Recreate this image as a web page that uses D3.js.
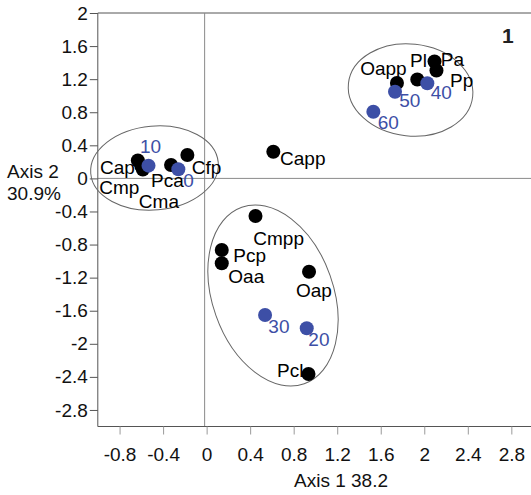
<!DOCTYPE html>
<html>
<head>
<meta charset="utf-8">
<script src="https://cdn.jsdelivr.net/npm/d3@7"></script>
<style>
  html, body { margin: 0; padding: 0; background: #fff; }
  svg { display: block; }
  text { font-family: "Liberation Sans", Arial, sans-serif; }
</style>
</head>
<body>
<svg id="chart" width="531" height="495"></svg>
<script>
// Ordination scores (Axis 1, Axis 2) for the sampled groups
const groupNames = ["Cap", "Cmp", "Cma", "Pca", "Cfp", "Capp", "Cmpp", "Pcp", "Oaa", "Oap", "Pcl", "Oapp", "Pl", "Pa", "Pp"];
const groupAxis1 = [-0.632, -0.600, -0.586, -0.327, -0.177, 0.613, 0.449, 0.139, 0.139, 0.941, 0.936, 1.749, 1.936, 2.094, 2.112];
const groupAxis2 = [0.216, 0.150, 0.107, 0.162, 0.283, 0.323, -0.455, -0.866, -1.026, -1.128, -2.365, 1.153, 1.196, 1.413, 1.305];

// Sampling depths projected onto the same axes
const depthNames = ["10", "0", "30", "20", "50", "40", "60"];
const depthAxis1 = [-0.534, -0.260, 0.537, 0.920, 1.731, 2.028, 1.532];
const depthAxis2 = [0.154, 0.110, -1.652, -1.812, 1.048, 1.150, 0.806];

// Grouping ellipses: centre and semi-axes in axis units, tilt in degrees
const ellipseCx = [-0.479, 0.610, 1.874];
const ellipseCy = [0.126, -1.416, 1.069];
const ellipseRx = [0.588, 0.556, 0.574];
const ellipseRy = [0.508, 1.132, 0.556];
const ellipseTilt = [-5, -19.5, 6];

// Tick labels
const xTicks = [-0.8, -0.4, 0, 0.4, 0.8, 1.2, 1.6, 2, 2.4, 2.8];
const yTicks = [2, 1.6, 1.2, 0.8, 0.4, 0, -0.4, -0.8, -1.2, -1.6, -2, -2.4, -2.8];

// Label placement relative to each marker (pixels) and anchor
const groupLabelLayout = {
  Cap:  { dx: -3,  dy: 13.8, anchor: "end" },
  Cmp:  { dx: -2,  dy: 27.8, anchor: "end" },
  Cma:  { dx: -4,  dy: 38,   anchor: "start" },
  Pca:  { dx: -20, dy: 21.7, anchor: "start" },
  Cfp:  { dx: 4.4, dy: 19,   anchor: "start" },
  Capp: { dx: 6.7, dy: 13.3, anchor: "start" },
  Cmpp: { dx: -2.2, dy: 29,  anchor: "start" },
  Pcp:  { dx: 11.6, dy: 11.7, anchor: "start" },
  Oaa:  { dx: 6.6, dy: 20,   anchor: "start" },
  Oap:  { dx: -13, dy: 25,   anchor: "start" },
  Pcl:  { dx: -5,  dy: 2.7,  anchor: "end" },
  Oapp: { dx: 9.7, dy: -8,   anchor: "end" },
  Pl:   { dx: -7.3, dy: -12.8, anchor: "start" },
  Pa:   { dx: 6.2, dy: 4.5,  anchor: "start" },
  Pp:   { dx: 13.5, dy: 16.2, anchor: "start" }
};
const depthLabelLayout = {
  "10": { dx: -8.5, dy: -13 },
  "0":  { dx: 5,   dy: 17.4 },
  "30": { dx: 3.3, dy: 17.7 },
  "20": { dx: 1.6, dy: 17.7 },
  "50": { dx: 4.3, dy: 15 },
  "40": { dx: 3.4, dy: 16 },
  "60": { dx: 4.4, dy: 17.6 }
};

const blue = "#3d4fa6";
const fontSize = 19;

const svg = d3.select("#chart");

const x = d3.scaleLinear().domain([-1, 3]).range([97.8, 533.1]);
const y = d3.scaleLinear().domain([-3, 2]).range([426.5, 13]);

// Plot frame
const [x0, x1] = x.range();
const [yb, yt] = y.range();
svg.append("line").attr("x1", x0).attr("x2", x1).attr("y1", yt).attr("y2", yt)
  .attr("stroke", "#555").attr("stroke-width", 1);

// Zero reference lines
svg.append("line").attr("x1", x(0) - 2).attr("x2", x(0) - 2).attr("y1", yt).attr("y2", yb)
  .attr("stroke", "#8a8a8a").attr("stroke-width", 1);
svg.append("line").attr("x1", x0).attr("x2", x1).attr("y1", y(0)).attr("y2", y(0))
  .attr("stroke", "#8a8a8a").attr("stroke-width", 1);

// Y axis
const yAxis = d3.axisLeft(y).tickValues(yTicks).tickSize(8).tickPadding(2)
  .tickFormat(d => String(+d.toFixed(1)));
const gy = svg.append("g").attr("transform", `translate(${x0},0)`).call(yAxis);
gy.select(".domain").attr("stroke", "#555").attr("d", `M0,${yt}V${yb}`);
gy.selectAll(".tick line").attr("stroke", "#555");
gy.selectAll(".tick text").attr("font-size", fontSize).attr("fill", "#111")
  .attr("font-family", "Liberation Sans, Arial, sans-serif");

// X axis
const xAxis = d3.axisBottom(x).tickValues(xTicks).tickSize(8).tickPadding(13)
  .tickFormat(d => String(+d.toFixed(1)));
const gx = svg.append("g").attr("transform", `translate(0,${yb})`).call(xAxis);
gx.select(".domain").attr("stroke", "#555").attr("d", `M${x0},0H${x1}`);
gx.selectAll(".tick line").attr("stroke", "#9a9a9a");
gx.selectAll(".tick text").attr("font-size", fontSize).attr("fill", "#111")
  .attr("font-family", "Liberation Sans, Arial, sans-serif");

// Axis titles
svg.append("text").attr("x", 341).attr("y", 487).attr("text-anchor", "middle")
  .attr("font-size", fontSize).attr("fill", "#111").text("Axis 1 38.2");
const yt1 = svg.append("text").attr("x", 7).attr("y", 177.5)
  .attr("font-size", fontSize).attr("fill", "#111");
yt1.append("tspan").attr("x", 7).text("Axis 2");
yt1.append("tspan").attr("x", 7).attr("dy", 22).text("30.9%");

// Panel number
svg.append("text").attr("x", 502).attr("y", 43)
  .attr("font-family", "Liberation Serif, Times New Roman, serif")
  .attr("font-weight", "bold").attr("font-size", 21).attr("fill", "#222").text("1");

// Grouping ellipses
const ellipses = ellipseCx.map((cx, i) => ({
  cx, cy: ellipseCy[i], rx: ellipseRx[i], ry: ellipseRy[i], tilt: ellipseTilt[i]
}));
svg.append("g").selectAll("ellipse").data(ellipses).join("ellipse")
  .attr("transform", d => `translate(${x(d.cx)},${y(d.cy)}) rotate(${d.tilt})`)
  .attr("rx", d => x(d.rx) - x(0))
  .attr("ry", d => y(0) - y(d.ry))
  .attr("fill", "none").attr("stroke", "#666").attr("stroke-width", 1);

// Group markers
const groups = groupNames.map((n, i) => ({ name: n, a1: groupAxis1[i], a2: groupAxis2[i] }));
const depths = depthNames.map((n, i) => ({ name: n, a1: depthAxis1[i], a2: depthAxis2[i] }));

svg.append("g").selectAll("circle").data(groups).join("circle")
  .attr("cx", d => x(d.a1)).attr("cy", d => y(d.a2)).attr("r", 7)
  .attr("fill", "#000");

svg.append("g").selectAll("circle").data(depths).join("circle")
  .attr("cx", d => x(d.a1)).attr("cy", d => y(d.a2)).attr("r", 7)
  .attr("fill", blue);

// Labels
svg.append("g").selectAll("text").data(groups).join("text")
  .attr("x", d => x(d.a1) + groupLabelLayout[d.name].dx)
  .attr("y", d => y(d.a2) + groupLabelLayout[d.name].dy)
  .attr("text-anchor", d => groupLabelLayout[d.name].anchor)
  .attr("font-size", fontSize).attr("fill", "#000")
  .text(d => d.name);

svg.append("g").selectAll("text").data(depths).join("text")
  .attr("x", d => x(d.a1) + depthLabelLayout[d.name].dx)
  .attr("y", d => y(d.a2) + depthLabelLayout[d.name].dy)
  .attr("font-size", fontSize).attr("fill", blue)
  .text(d => d.name);
</script>
</body>
</html>
